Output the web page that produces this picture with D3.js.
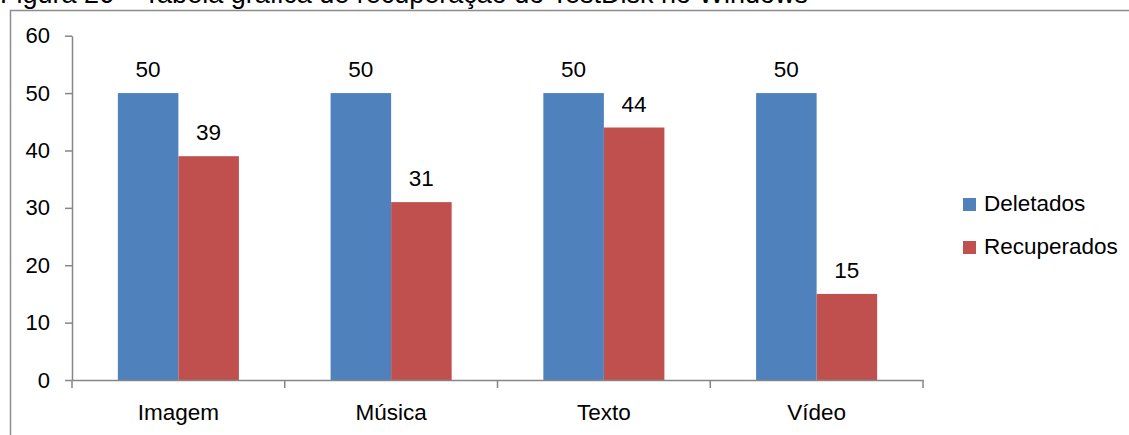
<!DOCTYPE html>
<html>
<head>
<meta charset="utf-8">
<script src="https://cdn.jsdelivr.net/npm/d3@7"></script>
<style>
  body { margin: 0; background: #fff; }
  svg { display: block; font-family: "Liberation Sans", Arial, sans-serif; }
</style>
</head>
<body>
<div id="chart-area"></div>
<script>
// data
const categories = ['Imagem', 'Música', 'Texto', 'Vídeo']
const seriesNames = ['Deletados', 'Recuperados']
const deletados = [50, 50, 50, 50]
const recuperados = [39, 31, 44, 15]
const yTicks = [0, 10, 20, 30, 40, 50, 60]
const colors = ['#4F81BD', '#C0504D']
const title = 'Figura 26 – Tabela gráfica de recuperação do TestDisk no Windows'

const W = 1129, H = 435
const margin = {top: 35.7, right: 206, bottom: 55, left: 72}
const width = W - margin.left - margin.right
const height = H - margin.top - margin.bottom

const svg = d3.select('#chart-area').append('svg')
  .attr('width', W)
  .attr('height', H)

// title, cut off at the top like in the picture
svg.append('text')
  .attr('x', 0)
  .attr('y', 3)
  .attr('font-size', 27)
  .attr('fill', '#000')
  .text(title)

// frame
svg.append('path')
  .attr('d', `M10.5,${H} V10.5 H${W}`)
  .attr('fill', 'none')
  .attr('stroke', '#8c8c8c')
  .attr('stroke-width', 1.5)

const g = svg.append('g')
  .attr('transform', `translate(${margin.left},${margin.top})`)

const table = categories.map((c, i) => ({cat: c, values: [deletados[i], recuperados[i]]}))

const x = d3.scaleBand()
  .domain(categories)
  .range([0, width])

const x1 = d3.scaleBand()
  .domain(seriesNames)
  .range([x.bandwidth() * 0.2155, x.bandwidth() * 0.7845])

const y = d3.scaleLinear()
  .domain([0, 60])
  .range([height, 0])

// y axis
const yAxis = g.append('g')
  .call(d3.axisLeft(y).tickValues(yTicks).tickSize(7).tickSizeOuter(0).tickPadding(15))
yAxis.select('.domain').attr('stroke', '#868686').attr('stroke-width', 1.5)
yAxis.selectAll('.tick line').attr('stroke', '#868686').attr('stroke-width', 1.5)
yAxis.selectAll('.tick text').attr('font-size', 22).attr('fill', '#000')
  .attr('font-family', '"Liberation Sans", Arial, sans-serif')

// bars
const groups = g.selectAll('.grp')
  .data(table)
  .enter().append('g')
  .attr('class', 'grp')
  .attr('transform', d => `translate(${x(d.cat)},0)`)

groups.selectAll('rect')
  .data(d => d.values.map((v, i) => ({name: seriesNames[i], v, i})))
  .enter().append('rect')
  .attr('x', d => x1(d.name))
  .attr('width', x1.bandwidth())
  .attr('y', d => y(d.v))
  .attr('height', d => y(0) - y(d.v))
  .attr('fill', d => colors[d.i])

groups.selectAll('.lbl')
  .data(d => d.values.map((v, i) => ({name: seriesNames[i], v, i})))
  .enter().append('text')
  .attr('class', 'lbl')
  .attr('x', d => x1(d.name) + x1.bandwidth() / 2)
  .attr('y', d => y(d.v) - 16)
  .attr('text-anchor', 'middle')
  .attr('font-size', 22.5)
  .text(d => d.v)

// x axis
const xAxis = g.append('g')
  .attr('transform', `translate(0,${height})`)
  .call(d3.axisBottom(x).tickSize(0).tickPadding(24))
xAxis.select('.domain').attr('stroke', '#868686').attr('stroke-width', 1.5)
xAxis.selectAll('.tick text').attr('font-size', 22.5).attr('fill', '#000')
  .attr('font-family', '"Liberation Sans", Arial, sans-serif')

// category boundary ticks
g.selectAll('.xtick')
  .data(d3.range(categories.length + 1))
  .enter().append('line')
  .attr('x1', i => i * x.step())
  .attr('x2', i => i * x.step())
  .attr('y1', height)
  .attr('y2', height + 8)
  .attr('stroke', '#868686')
  .attr('stroke-width', 1.5)

// legend
const legend = svg.append('g')
  .attr('transform', 'translate(963,198)')

const item = legend.selectAll('.item')
  .data(seriesNames)
  .enter().append('g')
  .attr('transform', (d, i) => `translate(0,${i * 43})`)

item.append('rect')
  .attr('width', 13)
  .attr('height', 13)
  .attr('fill', (d, i) => colors[i])

item.append('text')
  .attr('x', 21)
  .attr('y', 13)
  .attr('font-size', 22.5)
  .text(d => d)
</script>
</body>
</html>
